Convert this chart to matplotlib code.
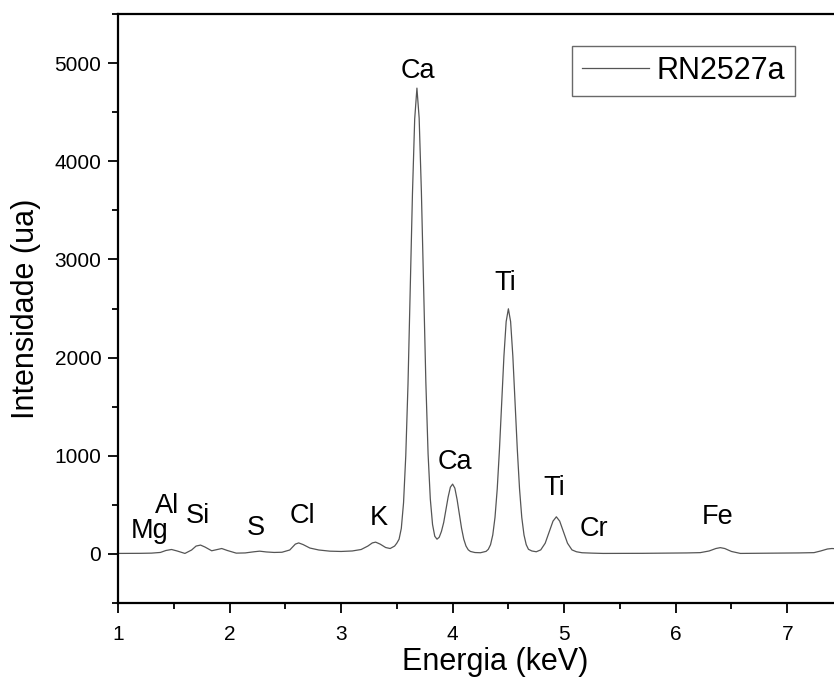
import matplotlib.pyplot as plt
from matplotlib.ticker import MultipleLocator

plt.rcParams["font.family"] = ["Liberation Sans", "DejaVu Sans"]

# spectrum (keV, counts)
energy = [1.00, 1.10, 1.20, 1.30, 1.38, 1.43, 1.48, 1.53, 1.60, 1.66, 1.70, 1.74, 1.78,
          1.84, 1.89, 1.93, 1.98, 2.06, 2.14, 2.22, 2.27, 2.33, 2.40, 2.47, 2.54, 2.59,
          2.62, 2.66, 2.72, 2.80, 2.90, 3.00, 3.10, 3.18, 3.24, 3.28, 3.31, 3.35, 3.40,
          3.44, 3.48, 3.50, 3.52, 3.54, 3.56, 3.58, 3.60, 3.62, 3.64, 3.66, 3.68, 3.70,
          3.72, 3.74, 3.76, 3.78, 3.80, 3.82, 3.84, 3.86, 3.88, 3.90, 3.92, 3.94, 3.96,
          3.98, 4.00, 4.02, 4.04, 4.06, 4.08, 4.10, 4.12, 4.14, 4.16, 4.20, 4.25, 4.28,
          4.30, 4.32, 4.34, 4.36, 4.38, 4.40, 4.42, 4.44, 4.46, 4.48, 4.50, 4.52, 4.54,
          4.56, 4.58, 4.60, 4.62, 4.64, 4.66, 4.68, 4.71, 4.75, 4.79, 4.83, 4.87, 4.90,
          4.93, 4.96, 4.99, 5.03, 5.07, 5.11, 5.16, 5.25, 5.35, 5.50, 5.70, 5.90, 6.10,
          6.22, 6.30, 6.36, 6.40, 6.44, 6.50, 6.58, 6.70, 6.90, 7.10, 7.24, 7.30, 7.36,
          7.40, 7.45]
counts = [5, 5, 6, 8, 15, 35, 45, 30, 5, 40, 80, 90, 70,
          32, 45, 55, 35, 8, 10, 22, 28, 20, 15, 17, 40, 100,
          112, 95, 60, 40, 28, 25, 30, 45, 80, 112, 120, 100, 65,
          55, 80, 110, 150, 260, 520, 1000, 1730, 2680, 3670, 4430, 4745, 4440,
          3690, 2700, 1750, 1020, 560, 300, 180, 150, 170, 230, 320, 450, 580,
          680, 711, 670, 555, 405, 262, 150, 80, 42, 25, 14, 12, 20,
          26, 47, 94, 193, 372, 662, 1064, 1543, 2014, 2366, 2497, 2366, 2014,
          1543, 1064, 662, 372, 193, 94, 47, 30, 22, 41, 109, 237, 334,
          378, 334, 237, 109, 41, 22, 12, 8, 5, 5, 6, 8, 10,
          13, 30, 55, 64, 55, 25, 5, 6, 8, 10, 13, 30, 50,
          55, 52]

# peak labels
peak_names = ["Mg", "Al", "Si", "S", "Cl", "K", "Ca", "Ca", "Ti", "Ti", "Cr", "Fe"]
peak_x = [1.28, 1.44, 1.72, 2.24, 2.65, 3.34, 3.69, 4.02, 4.47, 4.91, 5.27, 6.38]
peak_y = [160, 421, 320, 190, 320, 293, 4850, 864, 2684, 599, 184, 303]

fig = plt.figure(figsize=(8.34, 6.95), dpi=100)
ax = fig.add_axes([118 / 834, 1 - 603 / 695, (872 - 118) / 834, (603 - 14) / 695])

ax.plot(energy, counts, color="#555555", lw=0.9, label="RN2527a")

for name, x, y in zip(peak_names, peak_x, peak_y):
    ax.text(x, y, name, ha="center", va="baseline", fontsize=19.5)

ax.set_xlim(1, 7.76)
ax.set_ylim(-500, 5500)
ax.xaxis.set_major_locator(MultipleLocator(1))
ax.xaxis.set_minor_locator(MultipleLocator(0.5))
ax.yaxis.set_major_locator(MultipleLocator(1000))
ax.yaxis.set_minor_locator(MultipleLocator(500))
ax.tick_params(which="major", direction="out", length=7, width=1.3, labelsize=15)
ax.tick_params(which="minor", direction="out", length=4, width=1.3)
ax.tick_params(axis="x", pad=9)
ax.tick_params(axis="y", pad=5)
for side in ["left", "bottom", "top", "right"]:
    ax.spines[side].set_linewidth(1.6)

ax.set_xlabel("Energia (keV)", fontsize=22, labelpad=2)
ax.set_ylabel("Intensidade (ua)", fontsize=22, labelpad=10)

leg = ax.legend(loc="upper left", bbox_to_anchor=((572 - 118) / (872 - 118), (603 - 46) / (603 - 14)),
                borderaxespad=0, fontsize=22, frameon=True, fancybox=False, edgecolor="#444444",
                handlelength=2.2, borderpad=0.32, handletextpad=0.26)
leg.get_frame().set_linewidth(1.0)

fig.savefig("out.png", dpi=100)
